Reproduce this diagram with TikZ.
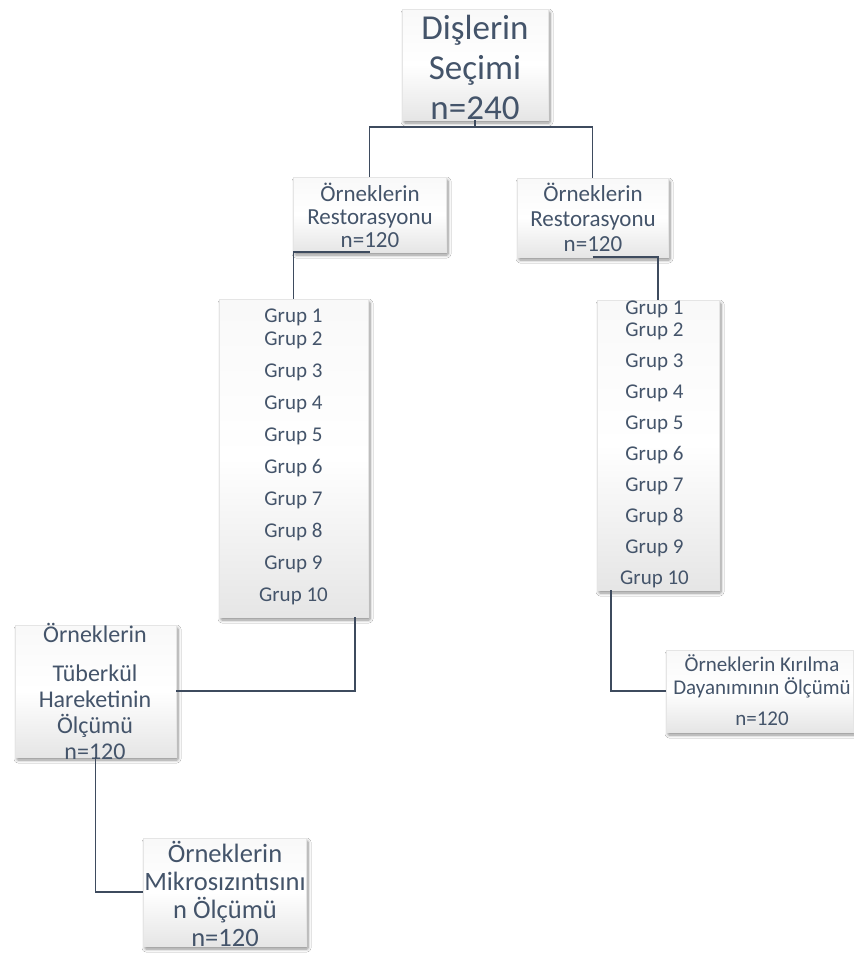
\documentclass[tikz,border=0pt]{standalone}
\usepackage{fontspec}
\setmainfont{Carlito}
\usetikzlibrary{shadows.blur,calc}
\definecolor{txt}{HTML}{44546A}
\definecolor{ln}{HTML}{3E4B5E}
\tikzset{
  box/.style={draw=gray!20, line width=0.3pt, top color=gray!5, bottom color=gray!20, middle color=white,
    inner sep=0pt, outer sep=0pt,
    blur shadow={shadow blur steps=6, shadow blur extra rounding=1pt, shadow xshift=2pt, shadow yshift=-3pt, shadow opacity=45, shadow blur radius=3pt}},
  lbl/.style={text=txt, align=center, inner sep=0pt},
  conn/.style={draw=ln, line width=1.6pt}
}
\begin{document}
\begin{tikzpicture}[x=1pt,y=-1pt]
\useasboundingbox (0,0) rectangle (854,954);
\fill[white] (0,0) rectangle (854,954);

% boxes
\node[box, minimum width=146pt, minimum height=111pt] (top)   at (475,64.5) {};
\node[box, minimum width=153pt, minimum height=75pt]  (restL) at (369.5,214.5) {};
\node[box, minimum width=151pt, minimum height=79pt]  (restR) at (592.5,217.5) {};
\node[box, minimum width=149pt, minimum height=318pt] (grupL) at (293.5,458) {};
\node[box, minimum width=122pt, minimum height=290pt] (grupR) at (658,445) {};
\node[box, minimum width=161pt, minimum height=132pt] (tub)   at (95.5,691) {};
\node[box, minimum width=163pt, minimum height=108pt] (mikro) at (224.5,892) {};
\node[box, minimum width=187pt, minimum height=82pt]  (kir)   at (759.5,691) {};

% texts
\node[lbl, font=\fontsize{35}{40}\selectfont] (topT) at (475,67) {Dişlerin\\Seçimi\\n=240};
\node[lbl, font=\fontsize{23}{23}\selectfont] (restLT) at (370,215) {Örneklerin\\Restorasyonu\\n=120};
\node[lbl, font=\fontsize{23}{25}\selectfont] (restRT) at (593,217) {Örneklerin\\Restorasyonu\\n=120};
\node[lbl, font=\fontsize{21}{32}\selectfont] (grupLT) at (293.5,457)
  {Grup 1\\[-9pt]Grup 2\\Grup 3\\Grup 4\\Grup 5\\Grup 6\\Grup 7\\Grup 8\\Grup 9\\Grup 10};
\node[lbl, font=\fontsize{21}{31}\selectfont] (grupRT) at (654.5,444)
  {Grup 1\\[-9pt]Grup 2\\Grup 3\\Grup 4\\Grup 5\\Grup 6\\Grup 7\\Grup 8\\Grup 9\\Grup 10};
\node[lbl, font=\fontsize{24}{26}\selectfont] (tubT) at (95,691.5)
  {Örneklerin\\[13pt]Tüberkül\\Hareketinin\\Ölçümü\\n=120};
\node[lbl, font=\fontsize{26.5}{28}\selectfont] (mikroT) at (225,893.5)
  {Örneklerin\\Mikrosızıntısını\\n Ölçümü\\n=120};
\node[lbl, font=\fontsize{21}{23}\selectfont] (kirT) at (762,690)
  {Örneklerin Kırılma\\Dayanımının Ölçümü\\[8pt]n=120};

% connectors
\draw[conn] (top.south) -- ++(0,7) -| (restL.north);
\draw[conn] (top.south) -- ++(0,7) -| (restR.north);
\draw[conn] (restL.south) -| (grupL.north);
\draw[conn] (restR.south) -| (grupR.north);
\coordinate (gLb) at ($(grupL.south east)+(-13,0)$);
\coordinate (gRb) at ($(grupR.south west)+(14,0)$);
\draw[conn] (gLb) |- (tub.east);
\draw[conn] (gRb) |- (kir.west);
\draw[conn] (tub.south) |- (mikro.west);
\end{tikzpicture}
\end{document}
